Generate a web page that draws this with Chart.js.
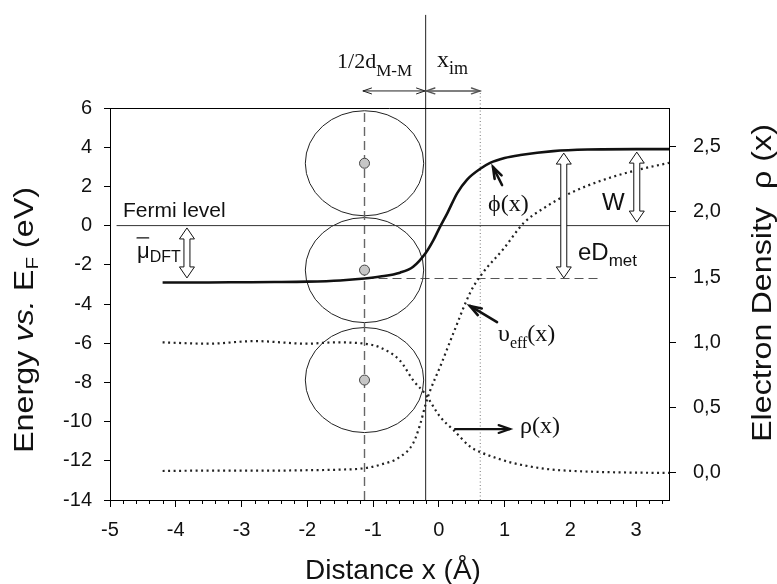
<!DOCTYPE html>
<html>
<head>
<meta charset="utf-8">
<script src="https://cdn.jsdelivr.net/npm/chart.js@4.4.1/dist/chart.umd.min.js"></script>
<style>
  html, body { margin: 0; padding: 0; background: #fff; }
  #wrap { width: 777px; height: 584px; }
</style>
</head>
<body>
<div id="wrap"><canvas id="chart" width="777" height="584"></canvas></div>
<script>
// potencial, potencial efetivo e densidade eletronica na superficie
const phiX = [-4.2, -3.5, -3.0, -2.5, -2.0, -1.5, -1.13, -0.89, -0.59, -0.39, -0.2, -0.08, 0.02, 0.13, 0.28, 0.43, 0.63, 0.78, 1.0, 1.24, 1.74, 2.26, 3.0, 3.5];
const phiY = [-2.9, -2.9, -2.89, -2.88, -2.86, -2.8, -2.7, -2.6, -2.4, -2.1, -1.4, -0.73, -0.05, 0.64, 1.66, 2.35, 2.9, 3.2, 3.45, 3.6, 3.8, 3.88, 3.9, 3.9];

const veffX = [-4.2, -3.5, -3.0, -2.5, -2.0, -1.5, -1.13, -0.89, -0.59, -0.39, -0.28, -0.2, -0.13, 0.02, 0.22, 0.48, 0.66, 0.99, 1.29, 1.6, 2.0, 2.5, 3.02, 3.5];
const veffY = [-12.52, -12.5, -12.5, -12.5, -12.48, -12.45, -12.38, -12.2, -11.8, -11.1, -10.1, -9.1, -8.4, -7.2, -5.5, -3.4, -2.45, -1.16, 0.13, 0.9, 1.66, 2.33, 2.84, 3.2];

const rhoX = [-4.2, -3.5, -2.8, -2.0, -1.6, -1.13, -0.89, -0.59, -0.39, -0.2, 0.02, 0.22, 0.48, 0.63, 0.9, 1.13, 1.65, 2.2, 2.8, 3.5];
const rhoY = [1.0, 0.99, 1.01, 0.99, 1.0, 0.99, 0.96, 0.86, 0.71, 0.6, 0.43, 0.33, 0.2, 0.16, 0.11, 0.076, 0.03, 0.012, 0.004, 0.0];

const atomX = [-1.13, -1.13, -1.13];
const atomY = [3.18, -2.27, -7.88];

const fermiX = [-4.9, 3.5];
const fermiY = [0, 0];
const surfaceX = [-0.2, -0.2];
const surfaceY = [-14, 10.75];
const atomPlaneX = [-1.13, -1.13];
const atomPlaneY = [-14, 6];
const imagePlaneX = [0.63, 0.63];
const imagePlaneY = [-14, 6.85];
const bottomLevelX = [-1.13, 2.46];
const bottomLevelY = [-2.7, -2.7];

const xTicks = [-5, -4, -3, -2, -1, 0, 1, 2, 3];
const yTicks = [-14, -12, -10, -8, -6, -4, -2, 0, 2, 4, 6];
const rhoTicks = [0, 0.5, 1.0, 1.5, 2.0, 2.5];

const SANS = '"Liberation Sans", Arial, sans-serif';
const SERIF = '"Liberation Serif", "Times New Roman", serif';

function pts(xs, ys) {
  return xs.map((x, i) => ({ x, y: ys[i] }));
}

// anotacoes em coordenadas de dados
const atomRadius = { x: 0.9, y: 2.68 };
const hollowArrows = [
  { x: -3.83, y1: -0.12, y2: -2.67 },
  { x: 3.01, y1: 3.75, y2: 0.18 },
  { x: 1.9, y1: 3.7, y2: -2.67 },
];
const lineArrows = [
  { from: [-1.153, 6.87], to: [-0.21, 6.87], both: true, color: '#222', width: 1, head: 9 },
  { from: [-0.19, 6.87], to: [0.626, 6.87], both: true, color: '#555', width: 1.4, head: 9 },
  { from: [0.961, 2.07], to: [0.824, 2.99], color: '#111', width: 2.6, head: 12 },
  { from: [0.885, -4.92], to: [0.474, -4.1], color: '#111', width: 2.6, head: 12 },
  { from: [0.246, -10.38], to: [1.082, -10.38], color: '#111', width: 2.2, head: 12 },
];
const labels = [
  { x: -1.548, y: 8.04, parts: [['1/2d', '22px ' + SERIF, 0], ['M-M', '17px ' + SERIF, 8]] },
  { x: -0.028, y: 8.09, parts: [['x', '24px ' + SERIF, 0], ['im', '18px ' + SERIF, 7]] },
  { x: -4.802, y: 0.44, parts: [['Fermi level', '21px ' + SANS, 0]] },
  { x: -4.589, y: -1.65, parts: [['\u03bc', '22px ' + SANS, 0], ['DFT', '16px ' + SANS, 4]], bar: true },
  { x: 0.748, y: 0.745, parts: [['\u03d5(x)', '24px ' + SERIF, 0]] },
  { x: 2.481, y: 0.8, parts: [['W', '24px ' + SANS, 0]] },
  { x: 2.116, y: -1.755, parts: [['eD', '24px ' + SANS, 0], ['met', '17px ' + SANS, 6]] },
  { x: 0.9, y: -5.9, parts: [['\u03c5', '24px ' + SERIF, 0], ['eff', '16px ' + SERIF, 7], ['(x)', '24px ' + SERIF, 0]] },
  { x: 1.234, y: -10.59, parts: [['\u03c1(x)', '24px ' + SERIF, 0]] },
];

function drawParts(ctx, parts, x, y) {
  let cx = x;
  parts.forEach(([t, font, dy]) => {
    ctx.font = font;
    ctx.fillText(t, cx, y + dy);
    cx += ctx.measureText(t).width;
  });
  return cx - x;
}

function partsWidth(ctx, parts) {
  return parts.reduce((s, [t, font]) => { ctx.font = font; return s + ctx.measureText(t).width; }, 0);
}

// titulo vertical esticado ate o comprimento do original
function drawSideTitle(ctx, parts, cx, cy, length) {
  const w = partsWidth(ctx, parts);
  ctx.save();
  ctx.translate(cx, cy);
  ctx.rotate(-Math.PI / 2);
  ctx.scale(length / w, 1);
  drawParts(ctx, parts, -w / 2, 0);
  ctx.restore();
}

function drawHollow(ctx, x, y1, y2) {
  const sw = 3, hw = 7.5, hl = 11;
  const top = Math.min(y1, y2), bot = Math.max(y1, y2);
  ctx.beginPath();
  ctx.moveTo(x, top);
  ctx.lineTo(x + hw, top + hl);
  ctx.lineTo(x + sw, top + hl);
  ctx.lineTo(x + sw, bot - hl);
  ctx.lineTo(x + hw, bot - hl);
  ctx.lineTo(x, bot);
  ctx.lineTo(x - hw, bot - hl);
  ctx.lineTo(x - sw, bot - hl);
  ctx.lineTo(x - sw, top + hl);
  ctx.lineTo(x - hw, top + hl);
  ctx.closePath();
  ctx.fillStyle = '#fff';
  ctx.fill();
  ctx.strokeStyle = '#111';
  ctx.lineWidth = 1;
  ctx.stroke();
}

function drawHead(ctx, x1, y1, x2, y2, len) {
  const a = Math.atan2(y2 - y1, x2 - x1);
  ctx.beginPath();
  ctx.moveTo(x2 - len * Math.cos(a - 0.33), y2 - len * Math.sin(a - 0.33));
  ctx.lineTo(x2, y2);
  ctx.lineTo(x2 - len * Math.cos(a + 0.33), y2 - len * Math.sin(a + 0.33));
  ctx.stroke();
}

const annotations = {
  id: 'annotations',
  beforeDatasetsDraw(chart) {
    const { ctx, scales: { x, y } } = chart;
    ctx.save();
    ctx.strokeStyle = '#222';
    ctx.lineWidth = 1;
    atomX.forEach((ax, i) => {
      const cx = x.getPixelForValue(ax), cy = y.getPixelForValue(atomY[i]);
      const rx = x.getPixelForValue(ax + atomRadius.x) - cx;
      const ry = cy - y.getPixelForValue(atomY[i] + atomRadius.y);
      ctx.beginPath();
      ctx.ellipse(cx, cy, rx, ry, 0, 0, Math.PI * 2);
      ctx.stroke();
    });
    ctx.restore();
  },
  afterDraw(chart) {
    const { ctx, chartArea: area, scales: { x, y } } = chart;
    ctx.save();
    // moldura superior
    ctx.strokeStyle = '#000';
    ctx.lineWidth = 1;
    ctx.beginPath();
    ctx.moveTo(area.left, area.top + 0.5);
    ctx.lineTo(area.right, area.top + 0.5);
    ctx.stroke();
    // ticks menores do eixo x
    for (let v = -5; v <= 3.5 + 1e-9; v += 0.2) {
      if (Math.abs(v - Math.round(v)) < 1e-6) continue;
      const px = Math.round(x.getPixelForValue(v)) + 0.5;
      ctx.beginPath();
      ctx.moveTo(px, area.bottom);
      ctx.lineTo(px, area.bottom + 4);
      ctx.stroke();
    }
    // setas vazadas
    hollowArrows.forEach((a) => drawHollow(ctx, x.getPixelForValue(a.x), y.getPixelForValue(a.y1), y.getPixelForValue(a.y2)));
    // setas de linha
    lineArrows.forEach((a) => {
      const x1 = x.getPixelForValue(a.from[0]), y1 = y.getPixelForValue(a.from[1]);
      const x2 = x.getPixelForValue(a.to[0]), y2 = y.getPixelForValue(a.to[1]);
      ctx.strokeStyle = a.color;
      ctx.lineWidth = a.width;
      ctx.lineCap = 'round';
      ctx.beginPath();
      ctx.moveTo(x1, y1);
      ctx.lineTo(x2, y2);
      ctx.stroke();
      drawHead(ctx, x1, y1, x2, y2, a.head);
      if (a.both) drawHead(ctx, x2, y2, x1, y1, a.head);
    });
    // textos
    ctx.fillStyle = '#111';
    ctx.textBaseline = 'alphabetic';
    ctx.textAlign = 'left';
    labels.forEach((l) => {
      const px = x.getPixelForValue(l.x), py = y.getPixelForValue(l.y);
      drawParts(ctx, l.parts, px, py);
      if (l.bar) {
        ctx.font = l.parts[0][1];
        const w = ctx.measureText(l.parts[0][0]).width;
        ctx.strokeStyle = '#111';
        ctx.lineWidth = 1.2;
        ctx.beginPath();
        ctx.moveTo(px, py - 20);
        ctx.lineTo(px + w - 1, py - 20);
        ctx.stroke();
      }
    });
    // titulos dos eixos
    const bottomTitle = [['Distance x (\u00c5)', '28px ' + SANS, 0]];
    drawParts(ctx, bottomTitle, 393 - partsWidth(ctx, bottomTitle) / 2, 579);

    const leftTitle = [['Energy ', '27px ' + SANS, 0], ['vs.', 'italic 27px ' + SANS, 0], [' E', '27px ' + SANS, 0], ['F', '17px ' + SANS, 5], [' (eV)', '27px ' + SANS, 0]];
    drawSideTitle(ctx, leftTitle, 33, 320, 266);

    const rightTitle = [['Electron Density  \u03c1 (x)', '27px ' + SANS, 0]];
    drawSideTitle(ctx, rightTitle, 771, 283, 318);
    ctx.restore();
  },
};

const guide = (data, color, width, dash, extra) => Object.assign({
  data, showLine: true, borderColor: color, borderWidth: width, borderDash: dash,
  pointRadius: 0, fill: false, yAxisID: 'y',
}, extra || {});

new Chart(document.getElementById('chart'), {
  type: 'scatter',
  data: {
    datasets: [
      { data: pts(atomX, atomY), pointRadius: 5, backgroundColor: '#c6c6c6', borderColor: '#444', borderWidth: 1, yAxisID: 'y' },
      guide(pts(phiX, phiY), '#111', 2.6, [], { cubicInterpolationMode: 'monotone' }),
      guide(pts(veffX, veffY), '#222', 2.2, [2, 3.5], { cubicInterpolationMode: 'monotone' }),
      guide(pts(rhoX, rhoY), '#222', 2.2, [2, 3.5], { cubicInterpolationMode: 'monotone', yAxisID: 'y1' }),
      guide(pts(fermiX, fermiY), '#333', 1, []),
      guide(pts(surfaceX, surfaceY), '#222', 1, [], { clip: false }),
      guide(pts(atomPlaneX, atomPlaneY), '#666', 1.4, [9, 5]),
      guide(pts(imagePlaneX, imagePlaneY), '#777', 1, [1, 2.5], { clip: false }),
      guide(pts(bottomLevelX, bottomLevelY), '#555', 1.2, [9, 5]),
    ],
  },
  options: {
    responsive: false,
    animation: false,
    devicePixelRatio: 1,
    layout: { padding: { top: 108, left: 0, right: 0, bottom: 0 } },
    plugins: { legend: { display: false }, tooltip: { enabled: false } },
    scales: {
      x: {
        type: 'linear', min: -5, max: 3.5,
        afterBuildTicks: (s) => { s.ticks = xTicks.map((v) => ({ value: v })); },
        afterFit: (s) => { s.height = 84; },
        grid: { drawOnChartArea: false, tickLength: 7, color: '#000' },
        border: { color: '#000', width: 1 },
        ticks: { color: '#111', font: { family: SANS, size: 20 }, padding: 11, maxRotation: 0, callback: (v) => String(v) },
      },
      y: {
        type: 'linear', position: 'left', min: -14, max: 6,
        afterBuildTicks: (s) => { s.ticks = yTicks.map((v) => ({ value: v })); },
        afterFit: (s) => { s.width = 110; },
        grid: { drawOnChartArea: false, tickLength: 6, color: '#000' },
        border: { color: '#000', width: 1 },
        ticks: { color: '#111', font: { family: SANS, size: 20 }, padding: 12, callback: (v) => String(v) },
      },
      y1: {
        type: 'linear', position: 'right', min: -0.207, max: 2.795,
        afterBuildTicks: (s) => { s.ticks = rhoTicks.map((v) => ({ value: v })); },
        afterFit: (s) => { s.width = 108; },
        grid: { drawOnChartArea: false, tickLength: 7, color: '#000' },
        border: { color: '#000', width: 1 },
        ticks: { color: '#111', font: { family: SANS, size: 20 }, padding: 17, callback: (v) => v.toFixed(1).replace('.', ',') },
      },
    },
  },
  plugins: [annotations],
});
</script>
</body>
</html>
